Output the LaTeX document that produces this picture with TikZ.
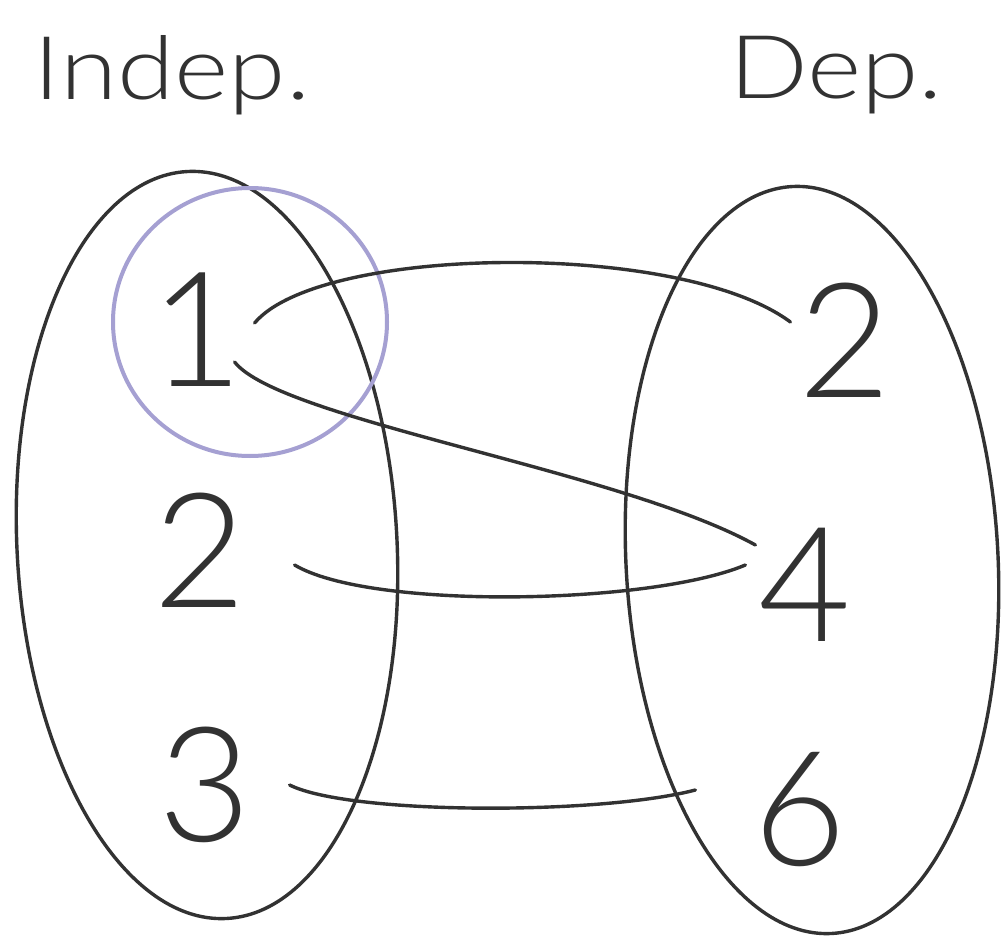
\documentclass[tikz,border=0pt]{standalone}
\usepackage{fontspec}
\setmainfont{Carlito}
\newfontfamily\lightfont{Lato}[UprightFont=* Light]
\definecolor{inkc}{RGB}{50,50,50}
\definecolor{circc}{RGB}{165,160,210}
\begin{document}
\begin{tikzpicture}[x=1pt,y=-1pt,
  ink/.style={draw=inkc,line width=3.4pt,line cap=round},
  hl/.style={draw=circc,line width=4pt},
  head/.style={text=inkc,font=\lightfont\fontsize{88}{100}\selectfont,inner sep=0pt,xscale=1.18},
  digit/.style={text=inkc,font=\lightfont\fontsize{160}{175}\selectfont,inner sep=0pt}]
\path[use as bounding box] (0,0) rectangle (1005,942);
\fill[white] (0,0) rectangle (1005,942);
% headings
\node[head] (indep) at (172,75) {Indep.};
\node[head] (dep) at (836,75) {Dep.};
% sets
\draw[ink,rotate around={3:(207,545)}] (207,545) ellipse [x radius=190pt, y radius=374pt];
\draw[ink,rotate around={3:(812,560)}] (812,560) ellipse [x radius=186pt, y radius=374pt];
% highlight circle
\draw[hl] (250,322) ellipse [x radius=137pt, y radius=134pt];
% numbers
\node[digit] (l1) at (197,330) {1};
\node[digit] (l2) at (200,550) {2};
\node[digit] (l3) at (205,785) {3};
\node[digit] (r2) at (845,340) {2};
\node[digit] (r4) at (805,585) {4};
\node[digit] (r6) at (800,810) {6};
% mapping
\draw[ink] ([shift={(11,-7)}]l1.east) .. controls (320,245) and (680,240) .. ([shift={(-8,-18)}]r2.west);
\draw[ink] ([shift={(-9,32)}]l1.east) .. controls (280,420) and (620,470) .. ([shift={(-3,-40)}]r4.west);
\draw[ink] ([shift={(48,15)}]l2.east) .. controls (370,610) and (650,605) .. ([shift={(-13,-20)}]r4.west);
\draw[ink] ([shift={(38,0)}]l3.east) .. controls (350,815) and (600,815) .. ([shift={(-58,-20)}]r6.west);
\end{tikzpicture}
\end{document}
